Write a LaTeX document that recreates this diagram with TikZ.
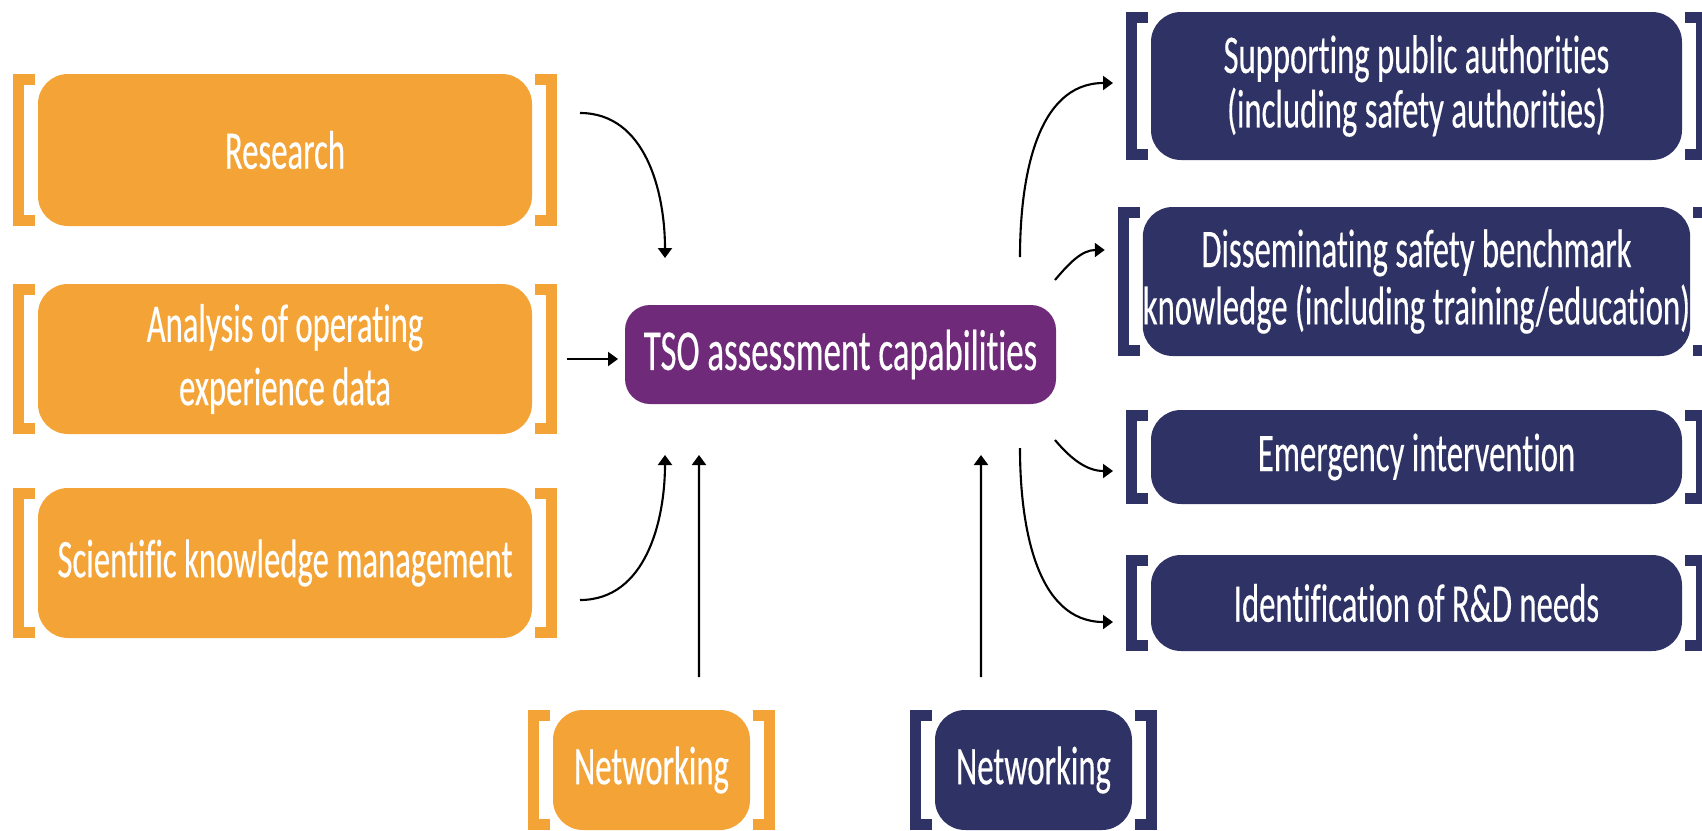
\documentclass[tikz,border=0pt]{standalone}
\usepackage{fontspec}
\setmainfont[FakeStretch=0.6,FakeBold=0.3,Ligatures={NoCommon,NoContextual}]{Carlito}
\usetikzlibrary{arrows.meta}

\definecolor{tsoorange}{RGB}{244,163,55}
\definecolor{tsopurple}{RGB}{111,43,122}
\definecolor{tsonavy}{RGB}{46,50,100}

\newcommand{\bracketpair}[2]{%
  \draw[#2,line width=1.1mm] ([shift={(-0.03,-0.055)}]#1.north west) -- ([shift={(-0.195,-0.055)}]#1.north west)
    -- ([shift={(-0.195,0.055)}]#1.south west) -- ([shift={(-0.03,0.055)}]#1.south west);
  \draw[#2,line width=1.1mm] ([shift={(0.03,-0.055)}]#1.north east) -- ([shift={(0.195,-0.055)}]#1.north east)
    -- ([shift={(0.195,0.055)}]#1.south east) -- ([shift={(0.03,0.055)}]#1.south east);}

\begin{document}
\begin{tikzpicture}[
  box/.style={rectangle,rounded corners=0.3cm,outer sep=0pt,inner sep=0pt,text=white,align=center,
    font=\fontsize{15.5}{18}\selectfont},
  obox/.style={box,fill=tsoorange},
  nbox/.style={box,fill=tsonavy},
  pbox/.style={box,fill=tsopurple,rounded corners=0.25cm,font=\fontsize{16.5}{18}\selectfont},
  arr/.style={-{Triangle[length=1mm,width=1.4mm]},line width=0.6pt,black}]
\useasboundingbox (0,0) rectangle (17.02,8.30);

\node[obox,minimum width=4.94cm,minimum height=1.52cm] (research) at (2.85,6.80) {Research};
\node[obox,minimum width=4.94cm,minimum height=1.50cm] (analysis) at (2.85,4.71) {Analysis of operating\\experience data};
\node[obox,minimum width=4.94cm,minimum height=1.50cm] (scientific) at (2.85,2.67) {Scientific knowledge management};

\node[pbox,minimum width=4.31cm,minimum height=0.99cm] (tso) at (8.405,4.755) {TSO assessment capabilities};

\node[nbox,minimum width=5.31cm,minimum height=1.48cm,font=\fontsize{15.5}{15.5}\selectfont] (supporting) at (14.165,7.44) {Supporting public authorities\\(including safety authorities)};
\node[nbox,minimum width=5.31cm,minimum height=1.49cm] (disseminating) at (14.165,5.485) {\raisebox{-0.6mm}{Disseminating safety benchmark}\\knowledge (including training/education)};
\node[nbox,minimum width=5.31cm,minimum height=0.94cm] (emergency) at (14.165,3.73) {Emergency intervention};
\node[nbox,minimum width=5.31cm,minimum height=0.96cm] (identification) at (14.165,2.27) {Identification of R\&D needs};

\node[obox,minimum width=1.97cm,minimum height=1.20cm] (netA) at (6.515,0.60) {Networking};
\node[nbox,minimum width=1.97cm,minimum height=1.20cm] (netB) at (10.335,0.60) {Networking};

\bracketpair{research}{tsoorange}
\bracketpair{analysis}{tsoorange}
\bracketpair{scientific}{tsoorange}
\bracketpair{netA}{tsoorange}
\bracketpair{supporting}{tsonavy}
\bracketpair{disseminating}{tsonavy}
\bracketpair{emergency}{tsonavy}
\bracketpair{identification}{tsonavy}
\bracketpair{netB}{tsonavy}

\draw[arr] ([shift={(0.48,0.37)}]research.east) to[out=0,in=90] ([shift={(-1.755,0.47)}]tso.north);
\draw[arr] ([xshift=0.35cm]analysis.east) -- ([xshift=-0.07cm]analysis.east -| tso.west);
\draw[arr] ([shift={(0.48,-0.37)}]scientific.east) to[out=0,in=-90] ([shift={(-1.755,-0.51)}]tso.south);
\draw[arr] ([shift={(0.475,0.33)}]netA.north) -- ([shift={(-1.415,-0.51)}]tso.south);
\draw[arr] ([shift={(-0.525,0.33)}]netB.north) -- ([shift={(1.405,-0.51)}]tso.south);

\draw[arr] ([shift={(1.795,0.48)}]tso.north) to[out=90,in=180] ([shift={(-0.38,0.03)}]supporting.west);
\draw[arr] ([shift={(-0.01,0.25)}]tso.north east) to[out=50,in=180] ([shift={(-0.38,0.315)}]disseminating.west);
\draw[arr] ([shift={(-0.01,-0.36)}]tso.south east) to[out=-50,in=180] ([shift={(-0.38,-0.14)}]emergency.west);
\draw[arr] ([shift={(1.795,-0.44)}]tso.south) to[out=-90,in=180] ([shift={(-0.38,-0.19)}]identification.west);
\end{tikzpicture}
\end{document}
